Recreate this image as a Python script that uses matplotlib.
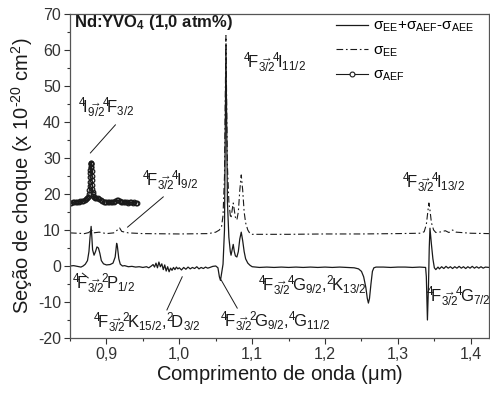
import numpy as np
import matplotlib
matplotlib.use('Agg')
import matplotlib.pyplot as plt
from matplotlib.lines import Line2D
from matplotlib.ticker import MultipleLocator, FixedLocator

plt.rcParams['font.family'] = ['Liberation Sans', 'DejaVu Sans']
plt.rcParams['mathtext.fontset'] = 'custom'
plt.rcParams['mathtext.rm'] = 'Liberation Sans'
plt.rcParams['mathtext.it'] = 'Liberation Sans:italic'
plt.rcParams['mathtext.bf'] = 'Liberation Sans:bold'
plt.rcParams['mathtext.default'] = 'regular'

# sigma_EE + sigma_AEF - sigma_AEE (solid)
wl_tot = [0.850, 0.855, 0.860, 0.865, 0.868, 0.871, 0.874, 0.876, 0.8775, 0.879,
          0.880, 0.881, 0.883, 0.885, 0.887, 0.889, 0.891, 0.893, 0.896, 0.900,
          0.905, 0.909, 0.912, 0.914, 0.915, 0.917, 0.919, 0.922, 0.925, 0.930,
          0.935, 0.940, 0.945, 0.950, 0.955, 0.958, 0.961, 0.964, 0.966, 0.968,
          0.970, 0.972, 0.974, 0.976, 0.978, 0.980, 0.982, 0.984, 0.986, 0.988,
          0.990, 0.992, 0.994, 0.996, 0.998, 1.000, 1.003, 1.006, 1.009, 1.012,
          1.015, 1.018, 1.021, 1.024, 1.027, 1.030, 1.033, 1.036, 1.039, 1.042,
          1.046, 1.050, 1.053, 1.055, 1.0565, 1.058, 1.060, 1.062, 1.063, 1.064,
          1.065, 1.066, 1.068, 1.070, 1.071, 1.0725, 1.074, 1.0755, 1.077, 1.079,
          1.081, 1.083, 1.085, 1.087, 1.089, 1.091, 1.094, 1.097, 1.100, 1.105,
          1.110, 1.120, 1.130, 1.140, 1.150, 1.160, 1.170, 1.180, 1.190, 1.200,
          1.210, 1.220, 1.230, 1.240, 1.246, 1.250, 1.253, 1.256, 1.258, 1.2595,
          1.261, 1.263, 1.265, 1.267, 1.270, 1.280, 1.290, 1.300, 1.310, 1.320,
          1.330, 1.338, 1.339, 1.3405, 1.342, 1.343, 1.344, 1.346, 1.348, 1.350,
          1.352, 1.355, 1.357, 1.360, 1.363, 1.366, 1.369, 1.372, 1.375, 1.378,
          1.381, 1.384, 1.387, 1.390, 1.393, 1.396, 1.399, 1.402, 1.405, 1.408,
          1.411, 1.414, 1.417, 1.420, 1.425]
s_tot = [0.0, 0.1, -0.1, -0.3, 0.0, 0.5, 1.5, 4.0, 8.0, 11.0,
         8.0, 4.5, 3.0, 4.0, 5.3, 5.0, 3.5, 1.5, 0.6, 0.3,
         0.4, 0.8, 2.5, 6.3, 5.5, 2.0, 0.5, 0.0, 0.1, -0.2,
         -0.1, -0.3, -0.2, -0.4, -0.2, -0.5, -0.1, 0.4, -0.3, 0.8,
         -0.5, 1.1, -0.2, 0.6, -1.0, 0.3, -1.4, -0.2, -1.6, -0.6,
         -1.2, -0.4, -1.0, -0.3, -0.8, -0.5, -1.1, -0.4, -0.9, -0.3,
         -0.8, -0.4, -0.7, -0.2, -0.8, -0.4, -0.7, -0.3, -0.6, -0.4,
         -0.1, 0.0, -0.5, -3.0, -4.0, -2.0, 0.5, 10.0, 35.0, 61.0,
         40.0, 18.0, 8.0, 4.0, 3.0, 4.5, 6.0, 4.0, 2.8, 2.5,
         4.0, 7.5, 9.4, 7.0, 4.0, 2.0, 0.8, 0.2, -0.2, -0.3,
         -0.4, -0.3, -0.4, -0.3, -0.4, -0.3, -0.4, -0.3, -0.4, -0.3,
         -0.4, -0.3, -0.4, -0.5, -0.8, -1.5, -3.0, -6.0, -9.0, -10.3,
         -9.0, -5.0, -1.5, -0.5, -0.3, -0.3, -0.4, -0.3, -0.3, -0.4,
         -0.3, -0.4, -3.0, -15.0, -5.0, 5.0, 10.5, 6.0, 2.0, -0.5,
         -1.0, -0.3, -0.8, -0.2, -0.7, -0.1, -0.6, -0.2, -0.7, -0.2,
         -0.6, -0.1, -0.6, -0.2, -0.7, -0.2, -0.6, -0.1, -0.6, -0.2,
         -0.6, -0.2, -0.6, -0.3, -0.4]

# sigma_EE (dash-dot)
wl_ee = [0.850, 0.860, 0.870, 0.876, 0.879, 0.882, 0.890, 0.900, 0.910, 0.915,
         0.918, 0.921, 0.930, 0.950, 1.000, 1.040, 1.050, 1.055, 1.058, 1.060,
         1.062, 1.063, 1.064, 1.065, 1.066, 1.068, 1.070, 1.071, 1.0725, 1.074,
         1.0755, 1.077, 1.079, 1.081, 1.083, 1.085, 1.087, 1.089, 1.091, 1.094,
         1.097, 1.100, 1.150, 1.200, 1.250, 1.300, 1.330, 1.336, 1.339, 1.341,
         1.3425, 1.344, 1.346, 1.349, 1.352, 1.360, 1.365, 1.370, 1.375, 1.380,
         1.400, 1.425]
s_ee = [9.2, 9.1, 9.0, 9.3, 10.2, 9.2, 9.4, 9.0, 9.2, 10.0,
        10.6, 9.6, 9.2, 9.0, 8.9, 9.0, 9.4, 10.0, 11.0, 14.0,
        25.0, 45.0, 64.0, 45.0, 28.0, 18.0, 14.0, 13.3, 15.5, 17.5,
        15.5, 13.5, 12.8, 15.0, 21.0, 25.3, 21.0, 15.0, 12.0, 10.0,
        9.0, 8.8, 8.8, 8.9, 8.9, 9.0, 9.1, 9.5, 11.5, 15.0,
        17.5, 15.5, 12.0, 10.0, 9.3, 9.5, 9.8, 9.3, 10.0, 9.4,
        9.1, 9.0]

# sigma_AEF (open circles)
wl_aef = [0.850, 0.852, 0.854, 0.856, 0.858, 0.860, 0.862, 0.864, 0.866, 0.868,
          0.870, 0.872, 0.874, 0.875, 0.876, 0.8765, 0.877, 0.87725, 0.8775, 0.87775,
          0.878, 0.87825, 0.8785, 0.87875, 0.879, 0.87925, 0.8795, 0.87975, 0.880, 0.88025,
          0.8805, 0.88075, 0.881, 0.8815, 0.882, 0.883, 0.884, 0.886, 0.888, 0.890,
          0.892, 0.894, 0.896, 0.898, 0.900, 0.902, 0.904, 0.906, 0.908, 0.910,
          0.912, 0.914, 0.916, 0.918, 0.920, 0.922, 0.924, 0.926, 0.928, 0.930,
          0.932, 0.934, 0.936, 0.938, 0.940, 0.942]
s_aef = [17.5, 17.6, 17.7, 17.8, 17.8, 17.9, 17.9, 18.0, 18.0, 18.1,
         18.3, 18.5, 18.9, 19.3, 20.0, 21.0, 22.2, 23.4, 24.6, 25.8,
         26.8, 27.6, 28.2, 28.5, 28.6, 28.2, 27.4, 26.3, 25.0, 23.8,
         22.6, 21.5, 20.6, 19.9, 19.4, 19.1, 18.9, 18.8, 18.9, 18.6,
         18.3, 18.1, 17.9, 17.8, 17.8, 17.7, 17.7, 17.7, 17.8, 17.9,
         18.1, 18.3, 18.2, 18.0, 17.8, 17.7, 17.7, 17.8, 17.7, 17.6,
         17.7, 17.7, 17.6, 17.7, 17.6, 17.6]

xticks = [0.9, 1.0, 1.1, 1.2, 1.3, 1.4]
xtick_labels = ['0,9', '1,0', '1,1', '1,2', '1,3', '1,4']
yticks = [-20, -10, 0, 10, 20, 30, 40, 50, 60, 70]
ytick_labels = ['-20', '-10', '0', '10', '20', '30', '40', '50', '60', '70']

fig = plt.figure(figsize=(4.9, 3.93), dpi=100)
ax = fig.add_axes([70/490, 55/393, 419/490, 324/393])

ink = '#1a1a1a'
ax.plot(wl_tot, s_tot, '-', color=ink, lw=0.9)
ax.plot(wl_ee, s_ee, color=ink, lw=0.8, dashes=(6, 2.5, 1.5, 2.5))
ax.plot(wl_aef, s_aef, '-', color=ink, lw=0.8, marker='o', ms=3.3,
        mfc='none', mec=ink, mew=0.9)

ax.set_xlim(0.85, 1.425)
ax.set_ylim(-20, 70)
ax.xaxis.set_major_locator(FixedLocator(xticks))
ax.set_xticklabels(xtick_labels)
ax.xaxis.set_minor_locator(MultipleLocator(0.05))
ax.yaxis.set_major_locator(FixedLocator(yticks))
ax.set_yticklabels(ytick_labels)
ax.yaxis.set_minor_locator(MultipleLocator(5))
ax.tick_params(which='major', direction='out', length=4, width=0.8,
               labelsize=11.5, colors='#333333', pad=2.5)
ax.tick_params(which='minor', direction='out', length=2.5, width=0.8, colors='#333333')
for sp in ax.spines.values():
    sp.set_color('#555555')
    sp.set_linewidth(0.9)

ax.set_xlabel('Comprimento de onda ($\\mu$m)', fontsize=14.5, color=ink, labelpad=1)
ax.set_ylabel('Seção de choque (x 10$^{\u201020}$ cm$^2$)', fontsize=14.5, color=ink, labelpad=2)

ax.text(0.855, 67.5, 'Nd:YVO$_\\mathbf{4}$ (1,0 atm%)', fontsize=12, fontweight='bold',
        color=ink, va='center', ha='left')

arr = '^{\\rightarrow}\\!'
labels = [
    (0.8616, 44.0, '${}^4\\!$I$_{9/2}' + arr + '{}^4\\!$F$_{3/2}$'),
    (0.949, 23.6, '${}^4\\!$F$_{3/2}' + arr + '{}^4\\!$I$_{9/2}$'),
    (1.0877, 56.4, '${}^4\\!$F$_{3/2}' + arr + '{}^4\\!$I$_{11/2}$'),
    (1.3055, 23.0, '${}^4\\!$F$_{3/2}' + arr + '{}^4\\!$I$_{13/2}$'),
    (0.8534, -5.0, '${}^4\\!$F$_{3/2}' + arr + '{}^2\\!$P$_{1/2}$'),
    (0.882, -15.9, '${}^4\\!$F$_{3/2}' + arr + '{}^2\\!$K$_{15/2}$,${}^2\\!$D$_{3/2}$'),
    (1.056, -15.6, '${}^4\\!$F$_{3/2}' + arr + '{}^2\\!$G$_{9/2}$,${}^4\\!$G$_{11/2}$'),
    (1.108, -5.6, '${}^4\\!$F$_{3/2}' + arr + '{}^4\\!$G$_{9/2}$,${}^2\\!$K$_{13/2}$'),
    (1.338, -8.6, '${}^4\\!$F$_{3/2}' + arr + '{}^4\\!$G$_{7/2}$'),
]
for x, y, s in labels:
    ax.text(x, y, s, fontsize=12, color=ink, va='center', ha='left', clip_on=False)

pointers = [
    ((0.9123, 39.2), (0.878, 31.4)),
    ((0.978, 19.2), (0.929, 10.8)),
    ((0.867, -2.0), (0.875, -3.3)),
    ((0.983, -12.2), (1.004, -3.0)),
    ((1.0575, -3.9), (1.0795, -11.7)),
]
for (x0, y0), (x1, y1) in pointers:
    ax.plot([x0, x1], [y0, y1], color=ink, lw=0.7)

handles = [
    Line2D([], [], color=ink, lw=0.9),
    Line2D([], [], color=ink, lw=0.8, dashes=(6, 2.5, 1.5, 2.5)),
    Line2D([], [], color=ink, lw=0.8, marker='o', ms=3.5, mfc='white', mec=ink, mew=0.8),
]
names = ['$\\sigma_{EE}$+$\\sigma_{AEF}$-$\\sigma_{AEE}$', '$\\sigma_{EE}$', '$\\sigma_{AEF}$']
ax.legend(handles, names, loc='upper left', bbox_to_anchor=(0.635, 0.985),
          frameon=False, fontsize=11, numpoints=1, handlelength=2.1,
          handletextpad=0.3, borderpad=0, borderaxespad=0, labelspacing=0.6)

fig.savefig('out.png', dpi=100)
